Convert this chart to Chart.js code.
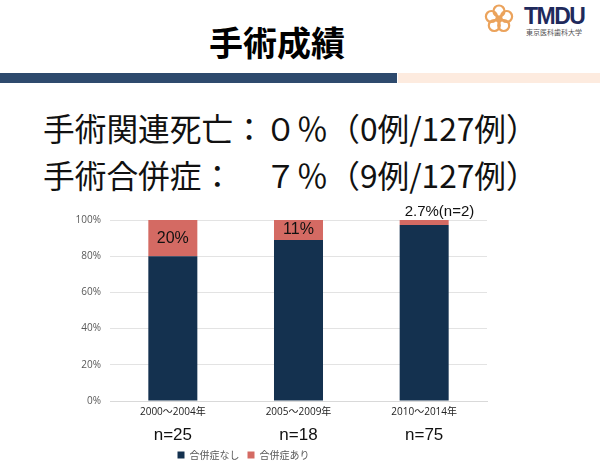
<!DOCTYPE html>
<html lang="ja">
<head>
<meta charset="utf-8">
<script src="https://cdn.jsdelivr.net/npm/chart.js@4.4.1/dist/chart.umd.min.js"></script>
<style>
  html, body { margin: 0; padding: 0; background: #fff; }
  body { width: 600px; height: 476px; position: relative; overflow: hidden; font-family: "Noto Sans CJK JP", sans-serif; }
  .title { position: absolute; left: 0; width: 554px; top: 22px; text-align: center; font-size: 34px; font-weight: 700; color: #000; line-height: 40px; }
  .stripe-a { position: absolute; left: 0; top: 73px; width: 397px; height: 10px; background: #2E4A6D; }
  .stripe-b { position: absolute; left: 398px; top: 73px; width: 202px; height: 10px; background: #FDEBDF; }
  .line { position: absolute; left: 43px; font-size: 31.7px; color: #111; line-height: 40px; white-space: pre; }
  .logo { position: absolute; left: 484px; top: 4px; }
  .tmdu { position: absolute; left: 524px; top: 3px; font-family: "Liberation Sans", Arial, sans-serif; font-weight: 700; font-size: 23px; color: #1F2A5C; letter-spacing: -1.5px; }
  .tmdu-sub { position: absolute; left: 526px; top: 27px; font-size: 7px; color: #555; }
  #wrap { position: absolute; left: 0; top: 195px; width: 600px; height: 281px; }
</style>
</head>
<body>
<div class="title">手術成績</div>
<svg class="logo" width="30" height="30" viewBox="0 0 30 30">
  <g fill="none" stroke="#EBA35C" stroke-width="2.2">
    <circle cx="15" cy="7" r="5.5"/>
    <circle cx="22.6" cy="12.5" r="5.5"/>
    <circle cx="19.7" cy="21.5" r="5.5"/>
    <circle cx="10.3" cy="21.5" r="5.5"/>
    <circle cx="7.4" cy="12.5" r="5.5"/>
  </g>
  <circle cx="15" cy="15" r="3" fill="#EBA35C"/>
</svg>
<div class="tmdu">TMDU</div>
<div class="tmdu-sub">東京医科歯科大学</div>
<div class="stripe-a"></div>
<div class="stripe-b"></div>
<div class="line" style="top:107px">手術関連死亡：０％（0例/127例）</div>
<div class="line" style="top:154px">手術合併症：　７％（9例/127例）</div>
<div id="wrap"><canvas id="chart"></canvas></div>
<script>
const periods = ['2000～2004年', '2005～2009年', '2010～2014年'];
const caseCounts = ['n=25', 'n=18', 'n=75'];
const noComplication = [80, 89, 97.3];
const withComplication = [20, 11, 2.7];
const complicationLabels = ['20%', '11%', '2.7%(n=2)'];
const yTicks = [0, 20, 40, 60, 80, 100];

const navy = '#14314F';
const red = '#D46A63';
const tickColor = '#595959';

// per-bar labels on the red segment, plus n= lines under the axis
const annotate = {
  id: 'annotate',
  afterDatasetsDraw(chart) {
    const ctx = chart.ctx;
    const meta = chart.getDatasetMeta(1);
    ctx.save();
    ctx.fillStyle = '#111';
    ctx.textBaseline = 'middle';
    meta.data.forEach((bar, i) => {
      const h = bar.base - bar.y;
      if (h > 15) {
        ctx.font = '16px "Liberation Sans", Arial, sans-serif';
        ctx.textAlign = 'center';
        ctx.fillText(complicationLabels[i], bar.x, (bar.y + bar.base) / 2);
      } else {
        ctx.font = '15px "Liberation Sans", Arial, sans-serif';
        ctx.textAlign = 'left';
        ctx.fillText(complicationLabels[i], bar.x - bar.width / 2 + 5, bar.y - 8);
      }
    });
    const xs = chart.scales.x;
    ctx.font = '17px "Liberation Sans", Arial, sans-serif';
    ctx.textAlign = 'center';
    caseCounts.forEach((t, i) => {
      ctx.fillText(t, xs.getPixelForValue(i), chart.chartArea.bottom + 34);
    });
    ctx.restore();
  }
};

new Chart(document.getElementById('chart'), {
  type: 'bar',
  data: {
    labels: periods,
    datasets: [
      { label: '合併症なし', data: noComplication, backgroundColor: navy, barPercentage: 0.39, categoryPercentage: 1 },
      { label: '合併症あり', data: withComplication, backgroundColor: red, barPercentage: 0.39, categoryPercentage: 1 },
    ],
  },
  options: {
    responsive: true,
    maintainAspectRatio: false,
    animation: false,
    layout: { padding: { top: 25, right: 113, left: 0, bottom: 6 } },
    plugins: {
      legend: {
        position: 'bottom',
        labels: { boxWidth: 7, boxHeight: 7, padding: 8, color: tickColor, font: { size: 10, family: '"Noto Sans CJK JP", sans-serif' } },
      },
      tooltip: { enabled: false },
    },
    scales: {
      x: {
        stacked: true,
        grid: { display: false, drawTicks: false },
        border: { color: '#D9D9D9' },
        ticks: { color: '#222', padding: 5, font: { size: 10, family: '"Open Sans", "Noto Sans CJK JP", sans-serif' } },
        afterFit: (s) => { s.height = 41; },
      },
      y: {
        stacked: true,
        min: 0,
        max: 100,
        afterBuildTicks: (s) => { s.ticks = yTicks.map(v => ({ value: v })); },
        grid: { color: '#E3E3E3', drawTicks: false },
        border: { display: false },
        ticks: { color: tickColor, padding: 9, font: { size: 10, family: '"Open Sans", sans-serif' }, callback: v => v + '%' },
        afterFit: (s) => { s.width = 110; },
      },
    },
  },
  plugins: [annotate],
});
</script>
</body>
</html>
